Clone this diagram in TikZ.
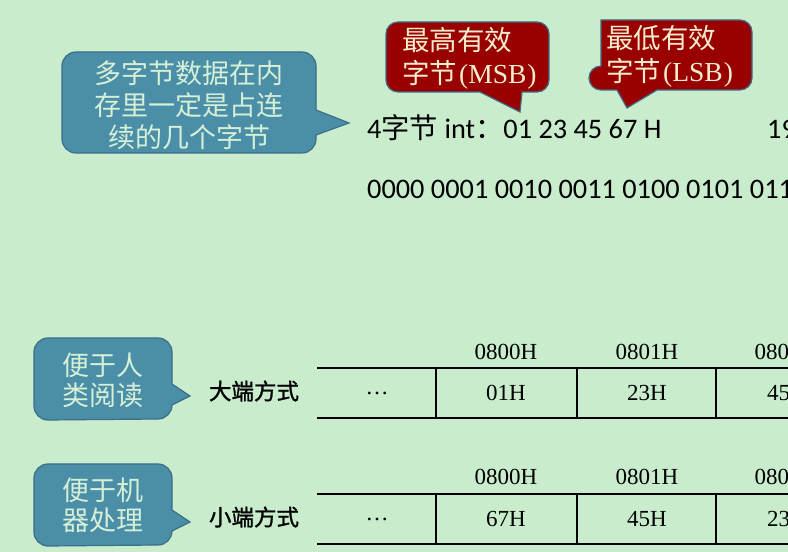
\documentclass[tikz,border=0pt]{standalone}
\usepackage{fontspec}
\setmainfont{Liberation Serif}
\newfontfamily\cjk{Noto Sans CJK SC}
\newfontfamily\cjkb[FakeBold=1.2]{Noto Sans CJK SC}
\newfontfamily\calfont{Carlito}
\definecolor{bgcol}{RGB}{200,236,204}
\definecolor{cblue}{RGB}{74,142,168}
\definecolor{cedge}{RGB}{60,110,135}
\definecolor{cred}{RGB}{153,0,0}
\definecolor{btext}{RGB}{214,240,214}
\definecolor{rtext}{RGB}{244,236,206}
\begin{document}
\begin{tikzpicture}[x=1pt,y=1pt,
  bluecall/.style={fill=cblue, draw=cedge, line width=1.2pt},
  redcall/.style={fill=cred, draw=cedge, line width=1.2pt},
  bluetxt/.style={text=btext, font=\cjk\fontsize{27}{32}\selectfont, align=center, inner sep=0pt},
  redtxt/.style={text=rtext, font=\fontsize{27.5}{33}\selectfont, align=left, inner sep=0pt, anchor=west},
  sanstxt/.style={font=\calfont\fontsize{28.3}{33}\selectfont, inner sep=0pt, anchor=base west},
  cell/.style={font=\fontsize{23}{27}\selectfont, inner sep=0pt},
  modelabel/.style={font=\cjkb\fontsize{22.5}{27}\selectfont, inner sep=0pt},
  hline/.style={line width=2.6pt},
  vline/.style={line width=1.8pt}]
\useasboundingbox (0,0) rectangle (788,552);
\clip (0,0) rectangle (788,552);
\fill[bgcol] (0,0) rectangle (788,552);

% top blue callout
\draw[bluecall] (76,500) -- (302,500) arc[start angle=90,end angle=0,radius=14]
  -- (316,442) -- (349,429) -- (316,417) -- (316,413) arc[start angle=0,end angle=-90,radius=14]
  -- (76,399) arc[start angle=270,end angle=180,radius=14]
  -- (62,486) arc[start angle=180,end angle=90,radius=14] -- cycle;
\node[bluetxt] (c1) at (189,447) {多字节数据在内\\存里一定是占连\\续的几个字节};

% MSB callout
\draw[redcall] (398,530) -- (537,530) arc[start angle=90,end angle=0,radius=12]
  -- (549,472) arc[start angle=0,end angle=-90,radius=12]
  -- (522,460) -- (520,440) -- (480,460) -- (398,460) arc[start angle=270,end angle=180,radius=12]
  -- (386,518) arc[start angle=180,end angle=90,radius=12] -- cycle;
\node[redtxt] (msb) at (402,494) {{\cjk 最高有效}\\{\cjk 字节}\kern2pt(MSB\kern1pt)};

% LSB callout
\draw[redcall] (601,532) -- (740,532) arc[start angle=90,end angle=0,radius=12]
  -- (752,474) arc[start angle=0,end angle=-90,radius=12]
  -- (657,462) -- (627,444) -- (617,462) -- (601,462) arc[start angle=270,end angle=180,radius=12]
  -- (589,474) arc[start angle=180,end angle=90,radius=12] -- cycle;
\node[redtxt] (lsb) at (606,496) {{\cjk 最低有效}\\{\cjk 字节}\kern2pt(LSB\kern1pt)};

% int text
\node[sanstxt] (intline) at (367,413) {4{\cjk 字节} int{\cjk ：}01 23 45 67 H};
\node[sanstxt] (nineteen) at (767,413) {19};
\node[sanstxt] (bits) at (367,353) {0000 0001 0010 0011 0100 0101 0110 0111};

% bottom blue callouts
\draw[bluecall] (48,214) -- (158,214) arc[start angle=90,end angle=0,radius=14]
  -- (172,168) -- (190,156) -- (172,147) arc[start angle=0,end angle=-90,radius=14]
  -- (48,132) arc[start angle=270,end angle=180,radius=14]
  -- (34,200) arc[start angle=180,end angle=90,radius=14] -- cycle;
\node[bluetxt, font=\cjk\fontsize{27}{30}\selectfont] (c2) at (103,172) {便于人\\类阅读};

\draw[bluecall] (48,88) -- (158,88) arc[start angle=90,end angle=0,radius=14]
  -- (172,42) -- (190,30) -- (172,21) arc[start angle=0,end angle=-90,radius=14]
  -- (48,6) arc[start angle=270,end angle=180,radius=14]
  -- (34,74) arc[start angle=180,end angle=90,radius=14] -- cycle;
\node[bluetxt, font=\cjk\fontsize{27}{30}\selectfont] (c3) at (103,47) {便于机\\器处理};

% labels
\node[modelabel] (big) at (254,161) {大端方式};
\node[modelabel] (little) at (254,35) {小端方式};

% big endian table
\draw[hline] (317,184) -- (800,184);
\draw[hline] (317,134) -- (800,134);
\foreach \x in {436,577,716} \draw[vline] (\x,184) -- (\x,134);
\node[cell, anchor=base] (bdots) at (377,157.5) {\ldots};
\node[cell] (bh1) at (506,200) {0800H};
\node[cell] (bh2) at (647,200) {0801H};
\node[cell] (bh3) at (786,200) {0802H};
\node[cell] (bv1) at (506,159) {01H};
\node[cell] (bv2) at (647,159) {23H};
\node[cell] (bv3) at (787,159) {45H};

% little endian table
\draw[hline] (317,58) -- (800,58);
\draw[hline] (317,8) -- (800,8);
\foreach \x in {436,577,716} \draw[vline] (\x,58) -- (\x,8);
\node[cell, anchor=base] (ldots) at (377,31.5) {\ldots};
\node[cell] (lh1) at (506,75) {0800H};
\node[cell] (lh2) at (647,75) {0801H};
\node[cell] (lh3) at (786,75) {0802H};
\node[cell] (lv1) at (506,33) {67H};
\node[cell] (lv2) at (647,33) {45H};
\node[cell] (lv3) at (787,33) {23H};
\end{tikzpicture}
\end{document}
